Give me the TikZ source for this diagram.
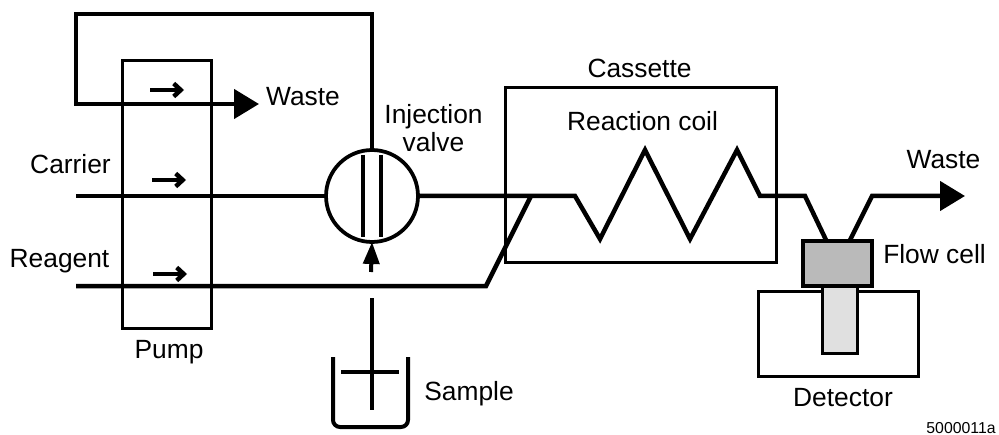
\documentclass[tikz,border=0pt]{standalone}
\usepackage{fontspec}
\setmainfont{Liberation Sans}
\usetikzlibrary{arrows.meta,positioning,calc}
\tikzset{
  flowline/.style={line width=.09cm,line join=miter},
  boxline/.style={draw,line width=.06cm,rectangle,inner sep=0pt,outer sep=0pt},
  bigtip/.style={-{Triangle[length=.5cm,width=.58cm]}},
  label/.style={font=\fontsize{15}{17}\selectfont,inner sep=0pt,align=center},
}
\begin{document}
\begin{tikzpicture}[x=.02cm,y=-.02cm]
    \useasboundingbox (0,0) rectangle (999,435);
    % boxes
    \node[boxline,minimum width=1.8cm,minimum height=5.38cm] (pump) at (167,194.5) {};
    \node[boxline,minimum width=5.44cm,minimum height=3.52cm] (cassette) at (641,175) {};
    \node[boxline,minimum width=3.2cm,minimum height=1.72cm] (detector) at (838,334) {};
    \node[boxline,fill=black!12,minimum width=.7cm,minimum height=1.36cm] (lamp) at (839.5,320) {};
    \node[boxline,line width=.08cm,fill=black!27,minimum width=1.38cm,minimum height=.9cm] (flowcell) at (837.5,263.5) {};
    \node[draw,circle,line width=.075cm,fill=white,minimum size=1.84cm,inner sep=0pt,outer sep=0pt] (valve) at (372,196) {};
    % inside of the valve
    \draw[line width=.095cm] (363,155) -- (363,237);
    \draw[line width=.095cm] (381,155) -- (381,237);
    % flow lines
    \coordinate (loopend) at (259,104);
    \coordinate (carrierin) at (76,196);
    \coordinate (reagentin) at (76,286);
    \coordinate (wasteout) at (965,196);
    \coordinate (cellin) at ($(flowcell.north)+(-11,0)$);
    \coordinate (cellout) at ($(flowcell.north)+(12,0)$);
    \draw[flowline,bigtip] (valve.north) -- (372,14) -- (76,14) -- (76,104) -- (loopend);
    \draw[flowline] (carrierin) -- (valve.west);
    \draw[flowline] (reagentin) -- (486,286) -- (531,196);
    \draw[flowline] (valve.east) -- (575,196) -- (600,239) -- (645,150) -- (690,239) -- (737,150) -- (760,196) -- (805,196) -- (cellin);
    \draw[flowline,bigtip] (cellout) -- (872,196) -- (wasteout);
    % pump arrows
    \foreach \xa/\ya in {150/90,152/180,153/274}
      \draw[line width=.085cm,-{Straight Barb[length=.14cm,width=.26cm,line width=.09cm]}] (\xa,\ya) -- ++(34,0);
    % sample
    \coordinate (needletop) at (372,298);
    \coordinate (needleend) at (372,410);
    \draw[line width=.08cm,-{Triangle[length=.44cm,width=.32cm]}] (371,272) -- (valve.south);
    \draw[line width=.08cm] (needletop) -- (needleend);
    \draw[line width=.08cm] (341,372) -- (399,372);
    \draw[line width=.08cm,rounded corners=.14cm] (333,357) -- (333,427) -- (408,427) -- (408,357);
    % labels
    \node[label] (wastea) at (303,97) {Waste};
    \node[label] (injection) at (433.5,128) {Injection\\[-1.5pt]valve};
    \node[label] (carrier) at (70.5,164.5) {Carrier};
    \node[label] (reagent) at (59.5,261) {Reagent};
    \node[label] (pumplabel) at (169,352) {Pump};
    \node[label] (cassettelabel) at (639.5,68.5) {Cassette};
    \node[label] (coil) at (642.5,121) {Reaction coil};
    \node[label] (wasteb) at (943.5,160) {Waste};
    \node[label] (celllabel) at (934.5,254.5) {Flow cell};
    \node[label] (sample) at (469,394) {Sample};
    \node[label] (detectorlabel) at (843,397.5) {Detector};
    \node[font=\fontsize{9}{10}\selectfont,inner sep=0pt] (partno) at (961,428) {5000011a};
\end{tikzpicture}
\end{document}
